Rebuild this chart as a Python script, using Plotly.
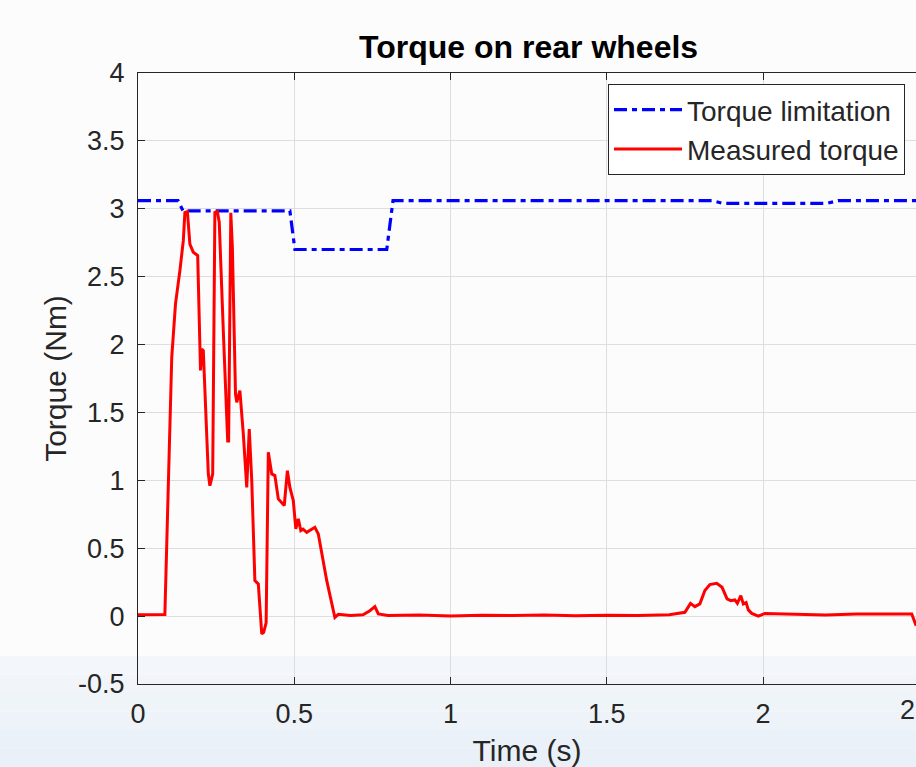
import plotly.graph_objects as go

# ---- data ----
lim_t = [0, 0.128, 0.144, 0.486, 0.502, 0.796, 0.816, 1.837, 1.872, 2.205, 2.24, 2.49]
lim_v = [3.06, 3.06, 2.985, 2.985, 2.70, 2.70, 3.06, 3.06, 3.04, 3.04, 3.06, 3.06]

meas_t = [0, 0.03, 0.06, 0.086, 0.108, 0.12, 0.134, 0.145, 0.150, 0.158,
          0.166, 0.177, 0.191, 0.198, 0.200, 0.204, 0.209, 0.225, 0.230, 0.239,
          0.246, 0.254, 0.260, 0.273, 0.287, 0.290, 0.297, 0.302, 0.312, 0.316,
          0.326, 0.337, 0.348, 0.356, 0.364, 0.374, 0.385, 0.396, 0.402, 0.410,
          0.417, 0.428, 0.438, 0.449, 0.468, 0.478, 0.486, 0.497, 0.505, 0.513,
          0.521, 0.528, 0.540, 0.566, 0.577, 0.604, 0.630, 0.641, 0.68, 0.72,
          0.742, 0.758, 0.769, 0.80, 0.9, 1.0, 1.1, 1.2, 1.3, 1.4,
          1.5, 1.6, 1.7, 1.75, 1.768, 1.782, 1.798, 1.814, 1.830, 1.852,
          1.869, 1.885, 1.897, 1.910, 1.918, 1.929, 1.937, 1.946, 1.953, 1.964,
          1.985, 2.006, 2.1, 2.2, 2.3, 2.4, 2.476, 2.49]
meas_v = [0.01, 0.012, 0.01, 0.012, 1.906, 2.30, 2.544, 2.765, 2.973, 2.98,
          2.74, 2.68, 2.655, 1.98, 1.81, 1.967, 1.955, 1.047, 0.96, 1.047,
          2.973, 2.98, 2.9, 2.10, 1.29, 1.29, 2.97, 2.715, 1.636, 1.575,
          1.66, 1.342, 0.948, 1.378, 0.998, 0.261, 0.237, -0.131, -0.12, -0.05,
          1.206, 1.047, 1.035, 0.863, 0.814, 1.071, 0.948, 0.85, 0.642, 0.716,
          0.63, 0.64, 0.617, 0.654, 0.605, 0.261, -0.01, 0.013, 0.005, 0.01,
          0.04, 0.07, 0.016, 0.004, 0.008, 0.0, 0.006, 0.004, 0.008, 0.003,
          0.007, 0.004, 0.01, 0.028, 0.094, 0.07, 0.09, 0.188, 0.232, 0.241,
          0.212, 0.127, 0.114, 0.119, 0.094, 0.151, 0.09, 0.10, 0.046, 0.02,
          0.0, 0.02, 0.012, 0.008, 0.015, 0.012, 0.015, -0.07]

x_ticks = [0, 0.5, 1, 1.5, 2]
x_ticktext = ["0", "0.5", "1", "1.5", "2"]
y_ticks = [-0.5, 0, 0.5, 1, 1.5, 2, 2.5, 3, 3.5, 4]
y_ticktext = ["-0.5", "0", "0.5", "1", "1.5", "2", "2.5", "3", "3.5", "4"]

FONT = "Liberation Sans, Arial, Helvetica, sans-serif"
AX = "#262626"

# plot area in pixels
L, R, T, B = 138, 916, 73, 684
PW, PH = R - L, B - T


def px_x(p):
    return (p - L) / PW


def px_y(p):
    return (B - p) / PH


fig = go.Figure()
fig.add_trace(go.Scatter(x=lim_t, y=lim_v, mode="lines", name="Torque limitation",
                         line=dict(color="#0000ff", width=3.2, dash="13px,5px,5px,5px")))
fig.add_trace(go.Scatter(x=meas_t, y=meas_v, mode="lines", name="Measured torque",
                         line=dict(color="#ff0000", width=3)))

# light blue band at the bottom of the screenshot
band = ["#f3f6fa", "#f1f5f9", "#eff4f9", "#edf3f8", "#ebf1f8", "#e9f0f7"]
edges = [656 + i * (767 - 656) / len(band) for i in range(len(band) + 1)]
for i, c in enumerate(band):
    fig.add_shape(type="rect", xref="paper", yref="paper", layer="below",
                  x0=px_x(-5), x1=px_x(925),
                  y0=px_y(edges[i + 1] + (5 if i == len(band) - 1 else 0)), y1=px_y(edges[i]),
                  fillcolor=c, line=dict(width=0))

fig.add_annotation(text="2.5", xref="paper", yref="paper", x=px_x(919.25), y=0,
                   xanchor="center", yanchor="top", yshift=-9, showarrow=False,
                   font=dict(family=FONT, size=27, color=AX))

fig.update_layout(
    width=916, height=767,
    margin=dict(l=L, r=916 - R, t=T, b=767 - B, autoexpand=False),
    paper_bgcolor="#fcfcfd", plot_bgcolor="rgba(0,0,0,0)",
    font=dict(family=FONT, size=27, color=AX),
    title=dict(text="<b>Torque on rear wheels</b>", x=px_x(528.6), xref="paper",
               y=1 - 47 / 767, yref="container", xanchor="center", yanchor="middle",
               automargin=False,
               font=dict(family=FONT, size=32, color="#000000")),
    xaxis=dict(range=[0, (R - L) / 312.5], tickvals=x_ticks, ticktext=x_ticktext,
               ticks="inside", ticklen=7, tickwidth=1.3, tickcolor=AX,
               showline=True, linecolor=AX, linewidth=1.3, mirror="ticks",
               showgrid=True, gridcolor="#dedede", gridwidth=1, zeroline=False,
               ticklabelstandoff=5, automargin=False,
               title=dict(text="Time (s)", font=dict(size=30, color=AX), standoff=19)),
    yaxis=dict(range=[-0.5, 4], tickvals=y_ticks, ticktext=y_ticktext,
               ticks="inside", ticklen=7, tickwidth=1.3, tickcolor=AX,
               showline=True, linecolor=AX, linewidth=1.3,
               showgrid=True, gridcolor="#dedede", gridwidth=1, zeroline=False,
               ticklabelstandoff=7, automargin=False,
               title=dict(text="Torque (Nm)", font=dict(size=30, color=AX), standoff=2)),
    legend=dict(x=px_x(905), y=px_y(84), xanchor="right", yanchor="top",
                bgcolor="#ffffff", bordercolor=AX, borderwidth=1,
                font=dict(family=FONT, size=28, color=AX), itemwidth=68,
                tracegroupgap=0),
    showlegend=True,
)

fig.write_html("out.html", config={"displayModeBar": False},
               post_script="document.body.style.margin='0';")
